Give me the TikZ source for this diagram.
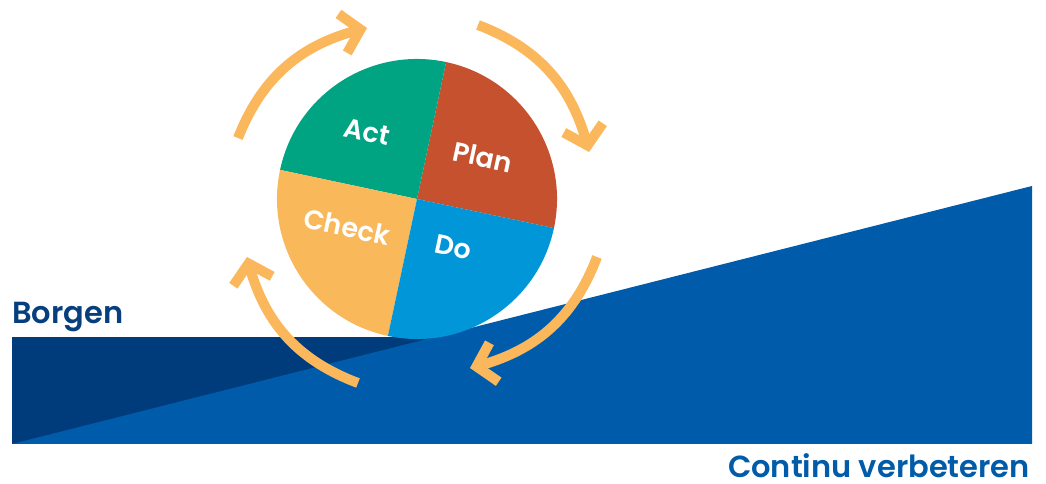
\documentclass[tikz,border=0pt]{standalone}
\usepackage{fontspec}
\newfontfamily\pop{Poppins SemiBold}
\usetikzlibrary{arrows.meta,bending,calc}
\definecolor{cGreen}{HTML}{00A382}
\definecolor{cRed}{HTML}{C6512F}
\definecolor{cLBlue}{HTML}{0096D7}
\definecolor{cYel}{HTML}{F9B85A}
\definecolor{cArrow}{HTML}{FAB75B}
\definecolor{cDark}{HTML}{003C7B}
\definecolor{cBlue}{HTML}{005CAA}
\definecolor{cTxtDark}{HTML}{073F7E}
\definecolor{cTxtBlue}{HTML}{005BA8}
\begin{document}
\begin{tikzpicture}[x=1pt,y=1pt,
  lbl/.style={text=white,font=\pop\fontsize{27}{27}\selectfont,rotate=-12,inner sep=0pt},
  cyc/.style={draw=cArrow,line width=10pt,-{Straight Barb[length=18pt,width=40pt,line width'=10pt]}},
  title/.style={font=\pop\fontsize{30.5}{31}\selectfont,inner sep=0pt}]
\useasboundingbox (0,0) rectangle (1046,484);
% ground
\fill[cDark] (12,40) rectangle (500,147);
\fill[cBlue] (12,40) -- (1032,298) -- (1032,40) -- cycle;
% wheel
\coordinate (C) at (417,285);
\fill[cRed] (C) -- ++(-12:140) arc[start angle=-12,end angle=78,radius=140] -- cycle;
\fill[cGreen] (C) -- ++(78:140) arc[start angle=78,end angle=168,radius=140] -- cycle;
\fill[cYel] (C) -- ++(168:140) arc[start angle=168,end angle=258,radius=140] -- cycle;
\fill[cLBlue] (C) -- ++(258:140) arc[start angle=258,end angle=348,radius=140] -- cycle;
\node[lbl] (act) at (367,352) {Act};
\node[lbl] (plan) at (483,327) {Plan};
\node[lbl] (check) at (347,257) {Check};
\node[lbl] (do) at (453,237) {Do};
% cycle arrows
\coordinate (t1) at (238,346);
\coordinate (h1) at (367,456);
\coordinate (t2) at (478,459);
\coordinate (h2) at (589,332);
\coordinate (t3) at (597,227);
\coordinate (h3) at (470,116);
\coordinate (t4) at (358,101);
\coordinate (h4) at (247,227);
\draw[cyc] (t1) to[bend left=28] (h1);
\draw[cyc] (t2) to[bend left=28] (h2);
\draw[cyc] (t3) to[bend left=28] (h3);
\draw[cyc] (t4) to[bend left=28] (h4);
% texts
\node[title,text=cTxtDark,anchor=base west] (borgen) at (12,160) {Borgen};
\node[title,text=cTxtBlue,anchor=base east] (cv) at (1030,6) {Continu verbeteren};
\end{tikzpicture}
\end{document}
